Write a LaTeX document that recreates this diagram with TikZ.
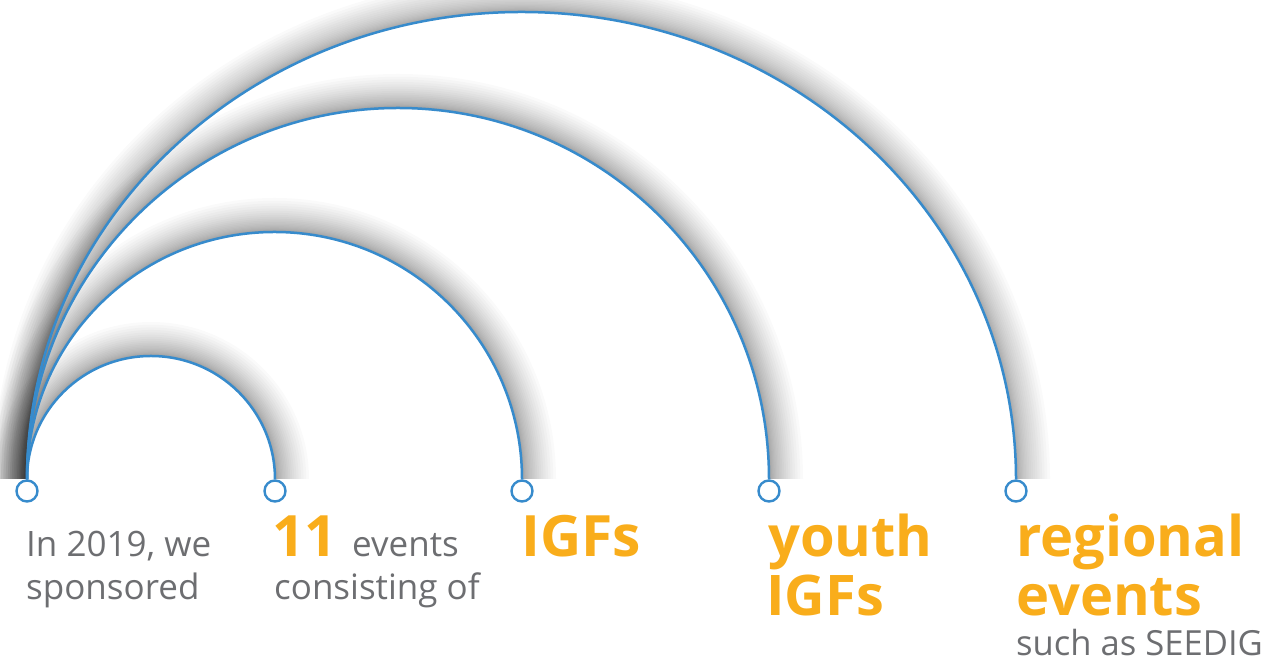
\documentclass[tikz,border=0pt]{standalone}
\usepackage{fontspec}
\setmainfont{Open Sans}
\definecolor{arcblue}{RGB}{55,139,204}
\definecolor{hlorange}{RGB}{249,173,27}
\definecolor{txtgray}{RGB}{109,110,113}
\tikzset{
  endpt/.style={circle, draw=arcblue, line width=2.4pt, fill=white, minimum size=21pt, inner sep=0pt},
  arcline/.style={draw=arcblue, line width=2.5pt},
  arcfill/.style={fill=white},
  shadowlayer/.style={fill=black, fill opacity=0.019, xshift=5pt, yshift=-3pt},
  graytext/.style={anchor=base west, inner sep=0pt, text depth=0pt, text=txtgray, font=\fontsize{35}{42}\selectfont},
  bigtext/.style={anchor=base west, inner sep=0pt, text=hlorange, font=\fontsize{56}{60}\selectfont\bfseries},
}
\newcommand\myarcshadow[2]{%
  \foreach \k in {1,...,24}{%
    \pgfmathsetmacro\sd{34*(\k/24)^2}%
    \path[shadowlayer] ([xshift=-\sd]p0.north) arc[start angle=180, end angle=0, x radius=#1+\sd, y radius=#2+\sd] -- cycle;
  }%
}
\begin{document}
\begin{tikzpicture}[x=1pt,y=1pt]
\useasboundingbox (0,0) rectangle (1266,660);
\node[endpt] (p0) at (27,169) {};
\node[endpt] (p1) at (275,169) {};
\node[endpt] (p2) at (522,169) {};
\node[endpt] (p3) at (769,169) {};
\node[endpt] (p4) at (1016,169) {};
\begin{scope}
  \clip (0,181.3) rectangle (1266,660);
  \myarcshadow{494.5}{467.3}
  \path[arcfill] (p0.north) arc[start angle=180, end angle=0, x radius=494.5, y radius=467.3] -- cycle;
  \myarcshadow{371}{371.3}
  \path[arcfill] (p0.north) arc[start angle=180, end angle=0, x radius=371, y radius=371.3] -- cycle;
  \myarcshadow{247.5}{247.3}
  \path[arcfill] (p0.north) arc[start angle=180, end angle=0, x radius=247.5, y radius=247.3] -- cycle;
  \myarcshadow{124}{123.3}
  \path[arcfill] (p0.north) arc[start angle=180, end angle=0, x radius=124, y radius=123.3] -- cycle;
\end{scope}
\draw[arcline] (p0.north) arc[start angle=180, end angle=0, x radius=494.5, y radius=467.3];
\draw[arcline] (p0.north) arc[start angle=180, end angle=0, x radius=371, y radius=371.3];
\draw[arcline] (p0.north) arc[start angle=180, end angle=0, x radius=247.5, y radius=247.3];
\draw[arcline] (p0.north) arc[start angle=180, end angle=0, x radius=124, y radius=123.3];
\node[graytext] (t1) at (26,103) {In 2019, we};
\node[graytext] (t2) at (26,60) {sponsored};
\node[bigtext, font=\fontsize{57}{60}\selectfont\bfseries] (n11) at (272,103) {11};
\node[graytext] (t3) at (352,103) {events};
\node[graytext] (t4) at (274,60) {consisting of};
\node[bigtext, font=\fontsize{57}{60}\selectfont\bfseries] (t5) at (521,103) {IGFs};
\node[bigtext] (t6) at (768,103) {youth};
\node[bigtext] (t7) at (766,44) {IGFs};
\node[bigtext] (t8) at (1016,103) {regional};
\node[bigtext] (t9) at (1016,44) {events};
\node[graytext, font=\fontsize{34.6}{42}\selectfont] (t10) at (1016,4.5) {such as SEEDIG};
\end{tikzpicture}
\end{document}
